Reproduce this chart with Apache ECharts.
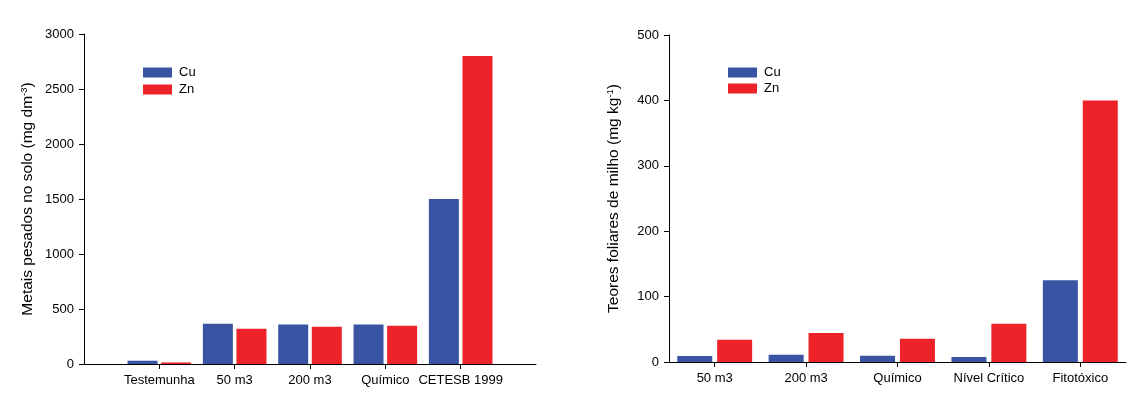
<!DOCTYPE html>
<html>
<head>
<meta charset="utf-8">
<script src="https://cdn.jsdelivr.net/npm/echarts@6/dist/echarts.min.js"></script>
<style>
html,body{margin:0;padding:0;background:#fff;}
#c{width:1135px;height:396px;}
</style>
</head>
<body>
<div id="c"></div>
<script>
// Left chart: soil heavy metals (mg dm-3)
const soilCategories = ['Testemunha', '50 m3', '200 m3', 'Químico', 'CETESB 1999'];
const soilCu = [30, 366, 358, 358, 1500];
const soilZn = [14, 321, 339, 348, 2800];
const soilTicks = [0, 500, 1000, 1500, 2000, 2500, 3000];

// Right chart: maize leaf contents (mg kg-1)
const leafCategories = ['50 m3', '200 m3', 'Químico', 'Nível Crítico', 'Fitotóxico'];
const leafCu = [9, 11, 9.5, 7.5, 125];
const leafZn = [34, 44.5, 35.5, 58.5, 400];
const leafTicks = [0, 100, 200, 300, 400, 500];

const BLUE = '#3A54A4';
const RED = '#EE2229';
const FONT = "'Liberation Sans', Arial, sans-serif";

// pad soil categories with empty end slots (axis extends half a slot past first/last group)
const soilCatsPadded = [''].concat(soilCategories, ['']);
const pad = arr => [null].concat(arr, [null]);

const chart = echarts.init(document.getElementById('c'), null, {renderer: 'canvas'});

const nameRich = {
  n: {fontSize: 15.5, fontFamily: FONT, color: '#000'},
  s: {fontSize: 9.5, fontFamily: FONT, color: '#000', verticalAlign: 'top', padding: [0, 0, 8, 0]}
};

const axisLineStyle = {show: true, lineStyle: {color: '#000', width: 1}};
const plain = v => String(v);

chart.setOption({
  animation: false,
  backgroundColor: '#fff',
  legend: [
    {
      data: ['Cu', 'Zn'], orient: 'vertical', left: 138, top: 61,
      icon: 'rect', itemWidth: 29, itemHeight: 10, itemGap: 4,
      textStyle: {fontSize: 13, fontFamily: FONT, color: '#000', padding: [0, 0, 0, 2]},
      selectedMode: false
    },
    {
      data: ['Cu', 'Zn'], orient: 'vertical', left: 723, top: 61,
      icon: 'rect', itemWidth: 29, itemHeight: 10, itemGap: 3,
      textStyle: {fontSize: 13, fontFamily: FONT, color: '#000', padding: [0, 0, 0, 2]},
      selectedMode: false
    }
  ],
  grid: [
    {left: 84, top: 34, width: 452, height: 330},
    {left: 669, top: 35, width: 457, height: 327}
  ],
  xAxis: [
    {
      type: 'category', gridIndex: 0, data: soilCatsPadded, boundaryGap: false,
      axisLine: axisLineStyle,
      axisTick: {show: true, length: 5, interval: (i) => i > 0 && i < soilCatsPadded.length - 1, lineStyle: {color: '#000'}},
      axisLabel: {interval: 0, margin: 10, fontSize: 13, fontFamily: FONT, color: '#000'},
      splitLine: {show: false}
    },
    {
      type: 'category', gridIndex: 1, data: leafCategories, boundaryGap: true,
      axisLine: axisLineStyle,
      axisTick: {show: true, length: 5, alignWithLabel: true, lineStyle: {color: '#000'}},
      axisLabel: {interval: 0, margin: 10, fontSize: 13, fontFamily: FONT, color: '#000'},
      splitLine: {show: false}
    }
  ],
  yAxis: [
    {
      type: 'value', gridIndex: 0, min: soilTicks[0], max: soilTicks[soilTicks.length - 1], interval: 500,
      axisLine: axisLineStyle,
      axisTick: {show: true, length: 5, lineStyle: {color: '#000'}},
      axisLabel: {margin: 10, fontSize: 13, fontFamily: FONT, color: '#000', formatter: plain},
      splitLine: {show: false},
      name: '{n|Metais pesados no solo (mg dm}{s|-3}{n|)}',
      nameLocation: 'middle', nameGap: 47, nameRotate: 90,
      nameTextStyle: {rich: nameRich}
    },
    {
      type: 'value', gridIndex: 1, min: leafTicks[0], max: leafTicks[leafTicks.length - 1], interval: 100,
      axisLine: axisLineStyle,
      axisTick: {show: true, length: 5, lineStyle: {color: '#000'}},
      axisLabel: {margin: 10, fontSize: 13, fontFamily: FONT, color: '#000', formatter: plain},
      splitLine: {show: false},
      name: '{n|Teores foliares de milho (mg kg}{s|-1}{n|)}',
      nameLocation: 'middle', nameGap: 46, nameRotate: 90,
      nameTextStyle: {rich: nameRich}
    }
  ],
  series: [
    {name: 'Cu', type: 'bar', xAxisIndex: 0, yAxisIndex: 0, data: pad(soilCu), barWidth: 30, barGap: '12%', itemStyle: {color: BLUE}},
    {name: 'Zn', type: 'bar', xAxisIndex: 0, yAxisIndex: 0, data: pad(soilZn), barWidth: 30, barGap: '12%', itemStyle: {color: RED}},
    {name: 'Cu', type: 'bar', xAxisIndex: 1, yAxisIndex: 1, data: leafCu, barWidth: 35, barGap: '14%', itemStyle: {color: BLUE}},
    {name: 'Zn', type: 'bar', xAxisIndex: 1, yAxisIndex: 1, data: leafZn, barWidth: 35, barGap: '14%', itemStyle: {color: RED}}
  ]
});
</script>
</body>
</html>
